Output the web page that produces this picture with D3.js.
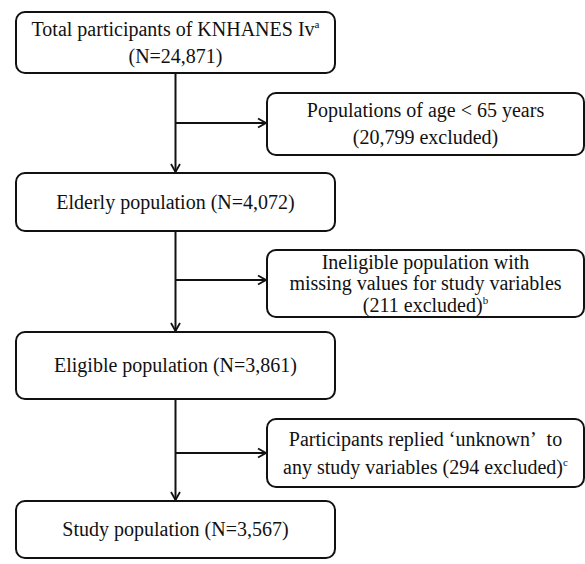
<!DOCTYPE html>
<html>
<head>
<meta charset="utf-8">
<script src="https://cdn.jsdelivr.net/npm/d3@7"></script>
<style>
  html, body { margin: 0; padding: 0; background: #fff; }
  svg { display: block; }
  text { font-family: "Liberation Serif", "Times New Roman", serif; fill: #111; }
</style>
</head>
<body>
<svg id="chart" width="585" height="564"></svg>
<script>
// ---- Data ----
const mainStages = [
  { lines: [["Total participants of KNHANES Iv", "a"], ["(N=24,871)"]] },
  { lines: [["Elderly population (N=4,072)"]] },
  { lines: [["Eligible population (N=3,861)"]] },
  { lines: [["Study population (N=3,567)"]] }
];
const exclusions = [
  { lines: [["Populations of age < 65 years"], ["(20,799 excluded)"]] },
  { lines: [["Ineligible population with"], ["missing values for study variables"], ["(211 excluded)", "b"]] },
  { lines: [["Participants replied \u2018unknown\u2019\u00a0 to"], ["any study variables (294 excluded)", "c"]] }
];
const counts = [24871, 4072, 3861, 3567];
const excluded = [20799, 211, 294];

// ---- Layout ----
const svg = d3.select("#chart");
const mainBoxes = [
  { y0: 12, y1: 73, lh: 27 },
  { y0: 173, y1: 231, lh: 27 },
  { y0: 332, y1: 399, lh: 27 },
  { y0: 501, y1: 558, lh: 27 }
];
const exBoxes = [
  { y0: 93, y1: 155, lh: 27, arrowY: 123 },
  { y0: 250, y1: 317, lh: 21.5, arrowY: 280 },
  { y0: 419, y1: 487, lh: 28, arrowY: 453 }
];
const x = d3.scaleLinear().domain([0, 1]).range([16, 335]);
const xe = d3.scaleLinear().domain([0, 1]).range([267, 584]);
const spineX = 175.5;
const fs = 20;

svg.append("defs").append("marker")
  .attr("id", "arr").attr("viewBox", "0 0 12 12")
  .attr("refX", 11).attr("refY", 6)
  .attr("markerWidth", 12).attr("markerHeight", 12)
  .attr("markerUnits", "userSpaceOnUse")
  .attr("orient", "auto")
  .append("path").attr("d", "M3,1.5 L11,6 L3,10.5")
  .attr("fill", "none").attr("stroke", "#111").attr("stroke-width", 1.8);

function drawBox(b, item, xs) {
  svg.append("rect")
    .attr("x", xs(0)).attr("y", b.y0)
    .attr("width", xs(1) - xs(0)).attr("height", b.y1 - b.y0)
    .attr("rx", 9).attr("ry", 9)
    .attr("fill", "#fff").attr("stroke", "#111").attr("stroke-width", 2);
  const n = item.lines.length;
  const cy = (b.y0 + b.y1) / 2;
  const firstBase = cy - (n - 1) * b.lh / 2 + fs * 0.33;
  item.lines.forEach((ln, i) => {
    const t = svg.append("text")
      .attr("x", (xs(0) + xs(1)) / 2)
      .attr("y", firstBase + i * b.lh)
      .attr("text-anchor", "middle")
      .attr("font-size", fs);
    t.append("tspan").text(ln[0]);
    if (ln[1]) {
      t.append("tspan").attr("font-size", 11).attr("dy", -8).text(ln[1]);
    }
  });
}

// spine segments with arrows
for (let i = 0; i < mainBoxes.length - 1; i++) {
  svg.append("line")
    .attr("x1", spineX).attr("x2", spineX)
    .attr("y1", mainBoxes[i].y1).attr("y2", mainBoxes[i + 1].y0 - 1)
    .attr("stroke", "#111").attr("stroke-width", 2)
    .attr("marker-end", "url(#arr)");
}
exBoxes.forEach(b => {
  svg.append("line")
    .attr("x1", spineX).attr("x2", xe(0) - 1)
    .attr("y1", b.arrowY).attr("y2", b.arrowY)
    .attr("stroke", "#111").attr("stroke-width", 2)
    .attr("marker-end", "url(#arr)");
});

mainBoxes.forEach((b, i) => drawBox(b, mainStages[i], x));
exBoxes.forEach((b, i) => drawBox(b, exclusions[i], xe));
</script>
</body>
</html>
